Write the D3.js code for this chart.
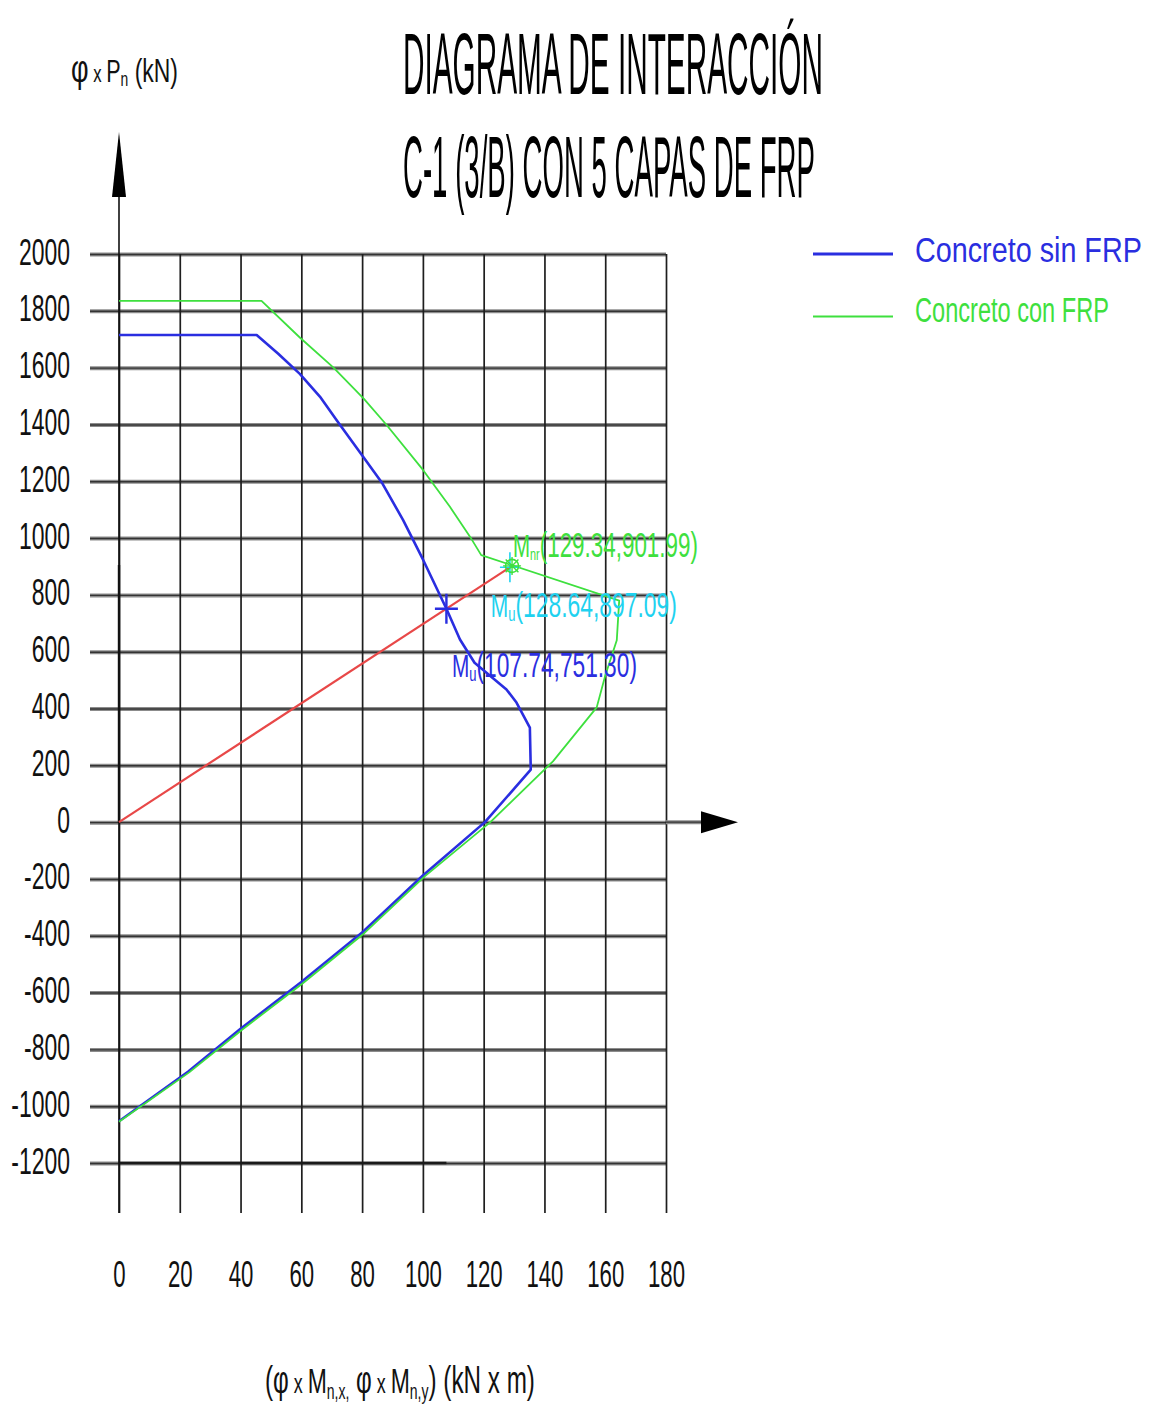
<!DOCTYPE html>
<html><head><meta charset="utf-8">
<script src="https://cdn.jsdelivr.net/npm/d3@7"></script>
<style>
html,body{margin:0;padding:0;background:#fff;}
svg{display:block;font-family:"Liberation Sans",Arial,sans-serif;}
</style></head><body>
<svg id="chart" width="1152" height="1405"></svg>
<script>
// ---------- DATA ----------
const xTicks = [0, 20, 40, 60, 80, 100, 120, 140, 160, 180];
const yTicks = [2000, 1800, 1600, 1400, 1200, 1000, 800, 600, 400, 200, 0, -200, -400, -600, -800, -1000, -1200];

// Concreto sin FRP (phi*Mn, phi*Pn)
const sinFRP_M = [0, 45.3, 52.4, 59.5, 66.1, 72.1, 80.4, 86.7, 93.5, 100.1, 107.74, 112.2, 117.0, 127.5, 130.8, 135.2, 135.5, 120.4, 100.0, 80.2, 60.0, 40.2, 22.8, 0];
const sinFRP_P = [1715, 1715, 1649, 1578, 1498, 1408, 1285, 1192, 1063, 923, 751.3, 643, 561, 467, 421, 333, 185, 0, -188, -387, -563, -726, -878, -1053];

// Concreto con FRP
const conFRP_M = [0, 46.9, 59.5, 70.5, 80.6, 88.0, 100.1, 108.9, 115.5, 119.2, 164.6, 163.8, 160.0, 157.2, 142.8, 122.2, 100.6, 80.7, 60.5, 40.6, 23.1, 0];
const conFRP_P = [1835, 1835, 1706, 1601, 1490, 1399, 1239, 1110, 1005, 940, 780, 640, 515, 404, 214, 0, -191, -391, -567, -730, -881, -1055];

// Linea de carga (origen -> Mnr)
const demandM = [0, 129.34];
const demandP = [0, 901.99];

// Puntos anotados
const pointMnr = [129.34, 901.99];
const pointMuCyan = [128.64, 897.09];
const pointMuBlue = [107.74, 751.30];
const baseLineM = [0, 107.74];
const baseLineP = [-1200, -1200];

const legendLabels = ["Concreto sin FRP", "Concreto con FRP"];
const titleLines = ["DIAGRAMA DE INTERACCIÓN", "C-1 (3/B) CON 5 CAPAS DE FRP"];

// ---------- STYLE ----------
const BLUE = "#2a2ee0", GREEN = "#3ee03e", CYAN = "#1fd2f0", RED = "#e84848";

const svg = d3.select("#chart");
const x = d3.scaleLinear().domain([0, 180]).range([119, 666]);
const y = d3.scaleLinear().domain([-1200, 2000]).range([1163, 254]);
const gridLeft = 90, gridBottom = 1213;

function fitText(parts, x0, x1, baseline, color) {
  const g = svg.append("g");
  const t = g.append("text").attr("x", 0).attr("y", 0).attr("fill", color);
  parts.forEach(p => {
    const ts = t.append("tspan").text(p[0]).attr("font-size", p[1]);
    if (p[2]) ts.attr("dy", p[2]);
  });
  const w = t.node().getBBox().width;
  const sx = (x1 - x0) / w;
  g.attr("transform", `translate(${x0},${baseline}) scale(${sx},1)`);
  return g;
}

// ---------- GRID ----------
const yGrid = svg.append("g").attr("transform", `translate(${gridLeft},0)`)
  .call(d3.axisLeft(y).tickValues(yTicks).tickSize(-(x(180) - gridLeft)).tickFormat(""));
yGrid.select(".domain").remove();
yGrid.selectAll(".tick line").attr("stroke", "#8c8c8c").attr("stroke-width", 4);
const yGrid2 = svg.append("g").attr("transform", `translate(${gridLeft},0)`)
  .call(d3.axisLeft(y).tickValues(yTicks).tickSize(-(x(180) - gridLeft)).tickFormat(""));
yGrid2.select(".domain").remove();
yGrid2.selectAll(".tick line").attr("stroke", "#333").attr("stroke-width", 1.4);

const xGrid = svg.append("g").attr("transform", `translate(0,${gridBottom})`)
  .call(d3.axisBottom(x).tickValues(xTicks).tickSize(-(gridBottom - y(2000))).tickFormat(""));
xGrid.select(".domain").remove();
xGrid.selectAll(".tick line").attr("stroke", "#1e1e1e").attr("stroke-width", 1.7);

svg.append("path")
  .attr("d", d3.line()(baseLineM.map((m, i) => [x(m), y(baseLineP[i])])))
  .attr("stroke", "#1a1a1a").attr("stroke-width", 2.4).attr("fill", "none");

// ---------- AXES ARROWS ----------
svg.append("line").attr("x1", x(0)).attr("x2", x(0)).attr("y1", 190).attr("y2", gridBottom)
  .attr("stroke", "#111").attr("stroke-width", 1.6);
svg.append("line").attr("x1", x(0)).attr("x2", x(0)).attr("y1", 565).attr("y2", y(0))
  .attr("stroke", "#111").attr("stroke-width", 2.4);
svg.append("path").attr("d", `M${x(0)},132 L${x(0) + 7},197 L${x(0) - 7},197 Z`).attr("fill", "#000");
svg.append("line").attr("x1", x(180)).attr("x2", 703).attr("y1", y(0)).attr("y2", y(0))
  .attr("stroke", "#8c8c8c").attr("stroke-width", 4);
svg.append("line").attr("x1", x(180)).attr("x2", 703).attr("y1", y(0)).attr("y2", y(0))
  .attr("stroke", "#333").attr("stroke-width", 1.4);
svg.append("path").attr("d", `M701,${y(0) - 11} L738,${y(0)} L701,${y(0) + 11} Z`).attr("fill", "#000");

// ---------- TICK LABELS ----------
const yLab = svg.append("g").attr("transform", `translate(${gridLeft},0)`)
  .call(d3.axisLeft(y).tickValues(yTicks).tickSize(0).tickPadding(20).tickFormat(d => String(d)));
yLab.select(".domain").remove();
yLab.selectAll(".tick text")
  .attr("x", 0).attr("dy", null).attr("y", 0)
  .attr("font-size", 37).attr("fill", "#111")
  .attr("font-family", "'Liberation Sans', Arial, sans-serif")
  .attr("text-anchor", "end")
  .attr("transform", "translate(-20,10) scale(0.62,1)");

const xLab = svg.append("g").attr("transform", `translate(0,${gridBottom})`)
  .call(d3.axisBottom(x).tickValues(xTicks).tickSize(0).tickFormat(d => String(d)));
xLab.select(".domain").remove();
xLab.selectAll(".tick text")
  .attr("x", 0).attr("dy", null).attr("y", 0)
  .attr("font-size", 37).attr("fill", "#111")
  .attr("font-family", "'Liberation Sans', Arial, sans-serif")
  .attr("text-anchor", "middle")
  .attr("transform", "translate(0,74) scale(0.6,1)");

// ---------- DATA LINES ----------
const line = d3.line();
svg.append("path")
  .attr("d", line(demandM.map((m, i) => [x(m), y(demandP[i])])))
  .attr("stroke", RED).attr("stroke-width", 2.2).attr("fill", "none");

svg.append("path")
  .attr("d", line(sinFRP_M.map((m, i) => [x(m), y(sinFRP_P[i])])))
  .attr("stroke", BLUE).attr("stroke-width", 2.6).attr("fill", "none").attr("stroke-linejoin", "round");

svg.append("path")
  .attr("d", line(conFRP_M.map((m, i) => [x(m), y(conFRP_P[i])])))
  .attr("stroke", GREEN).attr("stroke-width", 1.8).attr("fill", "none").attr("stroke-linejoin", "round");

// ---------- MARKERS ----------
function plus(pt, color, hw, hh, sw) {
  const cx = x(pt[0]), cy = y(pt[1]);
  svg.append("path").attr("d", `M${cx - hw},${cy} L${cx + hw},${cy} M${cx},${cy - hh} L${cx},${cy + hh}`)
    .attr("stroke", color).attr("stroke-width", sw).attr("fill", "none");
}
plus(pointMuBlue, BLUE, 11.5, 15, 2.4);
plus(pointMuCyan, CYAN, 10, 15, 1.6);
{
  const cx = x(pointMnr[0]), cy = y(pointMnr[1]);
  svg.append("circle").attr("cx", cx).attr("cy", cy).attr("r", 6.5)
    .attr("stroke", GREEN).attr("stroke-width", 1.6).attr("fill", "none");
  let d = "";
  for (let k = 0; k < 4; k++) {
    const a = k * Math.PI / 4, r = 9;
    d += `M${cx - r * Math.cos(a)},${cy - r * Math.sin(a)} L${cx + r * Math.cos(a)},${cy + r * Math.sin(a)} `;
  }
  svg.append("path").attr("d", d).attr("stroke", GREEN).attr("stroke-width", 1.4);
}

// ---------- ANNOTATIONS ----------
const fmt = d3.format(".2f");
fitText([["M", 32], ["nr", 17, 3], [`(${fmt(pointMnr[0])},${fmt(pointMnr[1])})`, 35, -3]], 513, 698, 557, GREEN);
fitText([["M", 32], ["u", 20, 4], [`(${fmt(pointMuCyan[0])},${fmt(pointMuCyan[1])})`, 35, -4]], 490.7, 677, 617, CYAN);
fitText([["M", 32], ["u", 20, 4], [`(${fmt(pointMuBlue[0])},${fmt(pointMuBlue[1])})`, 35, -4]], 452, 637, 677, BLUE);

// ---------- TITLES ----------
fitText([[titleLines[0], 88]], 403, 823, 93.5, "#000");
fitText([[titleLines[1], 88]], 403, 815, 197, "#000");

fitText([["φ", 39], [" x ", 24], ["P", 31], ["n", 20, 4], [" (kN)", 33, -4]], 71, 178, 82, "#111");
fitText([["(φ", 38], [" x ", 28], ["M", 36], ["n,x,", 22, 6], [" φ", 38, -6], [" x ", 28], ["M", 36], ["n,y", 22, 6], [")", 38, -6], [" (kN x m)", 38]], 265, 535, 1393, "#111");

// ---------- LEGEND ----------
svg.append("line").attr("x1", 813).attr("x2", 893).attr("y1", 254).attr("y2", 254)
  .attr("stroke", BLUE).attr("stroke-width", 3.2);
fitText([[legendLabels[0], 35]], 915, 1142, 262, BLUE);
svg.append("line").attr("x1", 813).attr("x2", 893).attr("y1", 316.5).attr("y2", 316.5)
  .attr("stroke", GREEN).attr("stroke-width", 2);
fitText([[legendLabels[1], 35]], 915, 1109, 322, GREEN);
</script>
</body></html>
